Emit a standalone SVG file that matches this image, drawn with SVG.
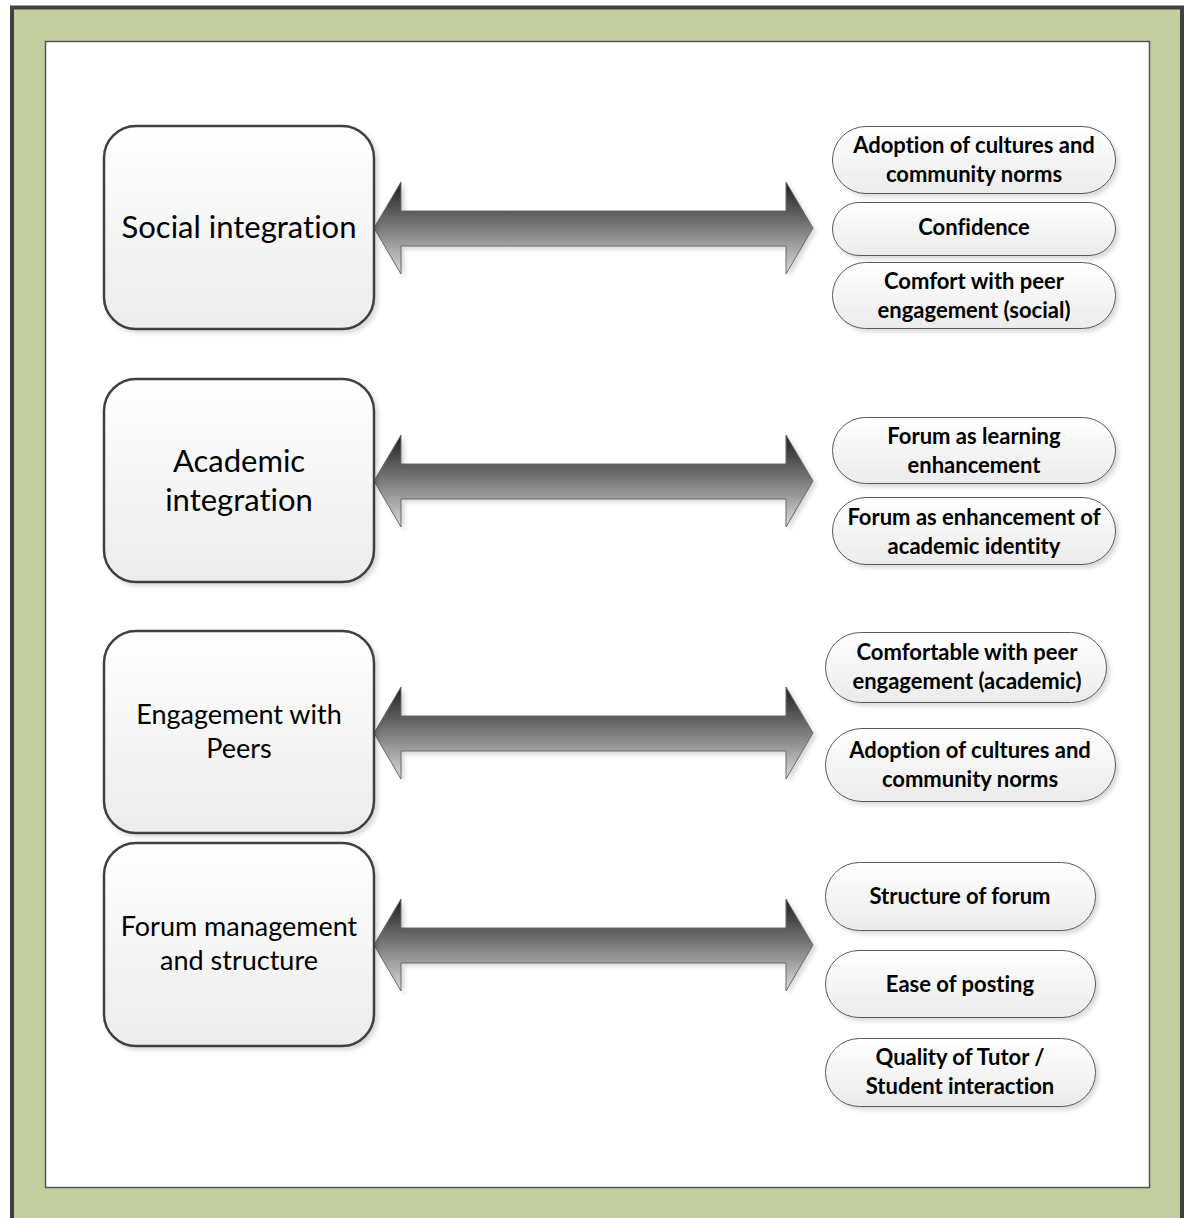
<svg xmlns="http://www.w3.org/2000/svg" width="1184" height="1218" viewBox="0 0 1184 1218">
<style>
.box{fill:url(#boxg);stroke:#404040;stroke-width:2.5;filter:url(#sh)}
.pill{fill:url(#pillg);stroke:#5a5a5a;stroke-width:1;filter:url(#sh)}
.arrow{fill:url(#arrg);stroke:#6a6a6a;stroke-width:1;filter:url(#sh)}
text{font-family:Lato,"Liberation Sans",sans-serif;fill:#000;text-anchor:middle;font-variant-ligatures:none}
.big{font-size:31px}
.mid{font-size:27px}
.sm{font-size:22px;font-weight:bold}
</style>
<defs>
<linearGradient id="boxg" x1="0" y1="0" x2="0" y2="1"><stop offset="0" stop-color="#ffffff"/><stop offset="1" stop-color="#ececec"/></linearGradient>
<linearGradient id="pillg" x1="0" y1="0" x2="0" y2="1"><stop offset="0" stop-color="#ffffff"/><stop offset="1" stop-color="#ebebeb"/></linearGradient>
<linearGradient id="arrg" x1="0" y1="0" x2="0" y2="1"><stop offset="0" stop-color="#1e1e1e"/><stop offset="1" stop-color="#dadada"/></linearGradient>
<filter id="sh" x="-10%" y="-10%" width="125%" height="130%"><feDropShadow dx="3" dy="3" stdDeviation="2" flood-color="#000" flood-opacity="0.15"/></filter>
</defs>
<g id="frame">
<rect x="12" y="7.5" width="1170" height="1220" fill="#c2ce9e" stroke="#404040" stroke-width="4"/>
<rect x="45.5" y="41.5" width="1104" height="1146" fill="#ffffff" stroke="#555" stroke-width="1.5"/>
</g>
<g id="connectors">
<path class="arrow" d="M374,228 L401,182 L401,211 L786,211 L786,182 L813,228 L786,274 L786,246 L401,246 L401,274 Z"/>
<path class="arrow" d="M374,481 L401,435 L401,464 L786,464 L786,435 L813,481 L786,527 L786,499 L401,499 L401,527 Z"/>
<path class="arrow" d="M374,733 L401,687 L401,716 L786,716 L786,687 L813,733 L786,779 L786,751 L401,751 L401,779 Z"/>
<path class="arrow" d="M374,945 L401,899 L401,928 L786,928 L786,899 L813,945 L786,991 L786,963 L401,963 L401,991 Z"/>
</g>
<g id="social-integration">
<rect class="box" x="104" y="126" width="270" height="203" rx="32"/>
<text class="big" x="239" y="238">Social integration</text>
</g>
<g id="academic-integration">
<rect class="box" x="104" y="379" width="270" height="203" rx="32"/>
<text class="big" x="239" y="472">Academic</text>
<text class="big" x="239" y="511">integration</text>
</g>
<g id="engagement-with-peers">
<rect class="box" x="104" y="631" width="270" height="202" rx="32"/>
<text class="mid" x="239" y="724">Engagement with</text>
<text class="mid" x="239" y="758">Peers</text>
</g>
<g id="forum-management">
<rect class="box" x="104" y="843" width="270" height="203" rx="32"/>
<text class="mid" x="239" y="936">Forum management</text>
<text class="mid" x="239" y="970">and structure</text>
</g>
<g id="adoption-1">
<rect class="pill" x="832.5" y="126.5" width="283" height="67" rx="33.5"/>
<text class="sm" x="974" y="153">Adoption of cultures and</text>
<text class="sm" x="974" y="182">community norms</text>
</g>
<g id="confidence">
<rect class="pill" x="832.5" y="202.5" width="283" height="53" rx="26.5"/>
<text class="sm" x="974" y="235">Confidence</text>
</g>
<g id="comfort-social">
<rect class="pill" x="832.5" y="262.5" width="283" height="66" rx="33"/>
<text class="sm" x="974" y="289">Comfort with peer</text>
<text class="sm" x="974" y="318">engagement (social)</text>
</g>
<g id="forum-learning">
<rect class="pill" x="832.5" y="417.5" width="283" height="66" rx="33"/>
<text class="sm" x="974" y="444">Forum as learning</text>
<text class="sm" x="974" y="473">enhancement</text>
</g>
<g id="forum-identity">
<rect class="pill" x="832.5" y="497.5" width="283" height="67" rx="33.5"/>
<text class="sm" x="974" y="525">Forum as enhancement of</text>
<text class="sm" x="974" y="554">academic identity</text>
</g>
<g id="comfortable-academic">
<rect class="pill" x="825.5" y="632.5" width="281" height="70" rx="35"/>
<text class="sm" x="967" y="660">Comfortable with peer</text>
<text class="sm" x="967" y="689">engagement (academic)</text>
</g>
<g id="adoption-2">
<rect class="pill" x="825.5" y="728.5" width="290" height="73" rx="36.5"/>
<text class="sm" x="970" y="758">Adoption of cultures and</text>
<text class="sm" x="970" y="787">community norms</text>
</g>
<g id="structure-forum">
<rect class="pill" x="825.5" y="862.5" width="270" height="68" rx="34"/>
<text class="sm" x="960" y="904">Structure of forum</text>
</g>
<g id="ease-posting">
<rect class="pill" x="825.5" y="950.5" width="270" height="67" rx="33.5"/>
<text class="sm" x="960" y="992">Ease of posting</text>
</g>
<g id="quality-tutor">
<rect class="pill" x="825.5" y="1038.5" width="270" height="68" rx="34"/>
<text class="sm" x="960" y="1065">Quality of Tutor /</text>
<text class="sm" x="960" y="1094">Student interaction</text>
</g>
</svg>
